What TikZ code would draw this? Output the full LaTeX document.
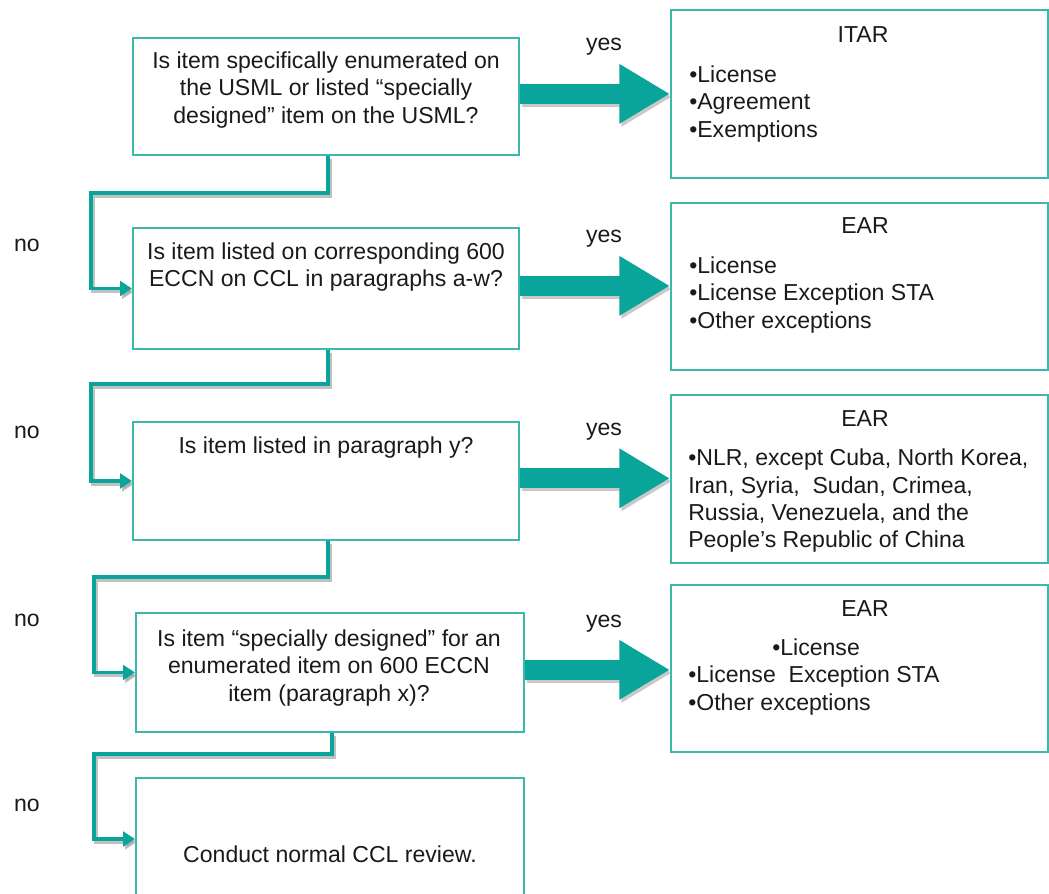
\documentclass[tikz,border=0pt]{standalone}
\usepackage{fontspec}
\setmainfont{Liberation Sans}
\usetikzlibrary{arrows.meta,calc,fit}
\definecolor{tealA}{HTML}{0AA59A}
\definecolor{tealB}{HTML}{3DB9AB}
\definecolor{txt}{HTML}{1A1A1A}
\begin{document}
\begin{tikzpicture}[x=0.75pt,y=-0.75pt,
  box/.style={draw=tealB,line width=1.5pt,inner sep=0pt},
  lbl/.style={font=\fontsize{17.3}{20.5}\selectfont,text=txt,inner sep=0pt},
  qtext/.style={lbl,align=center},
  ltext/.style={lbl,align=left,anchor=west},
  fat/.style={draw=tealA,line width=15pt,-{Triangle[length=38pt,width=42pt]}},
  fatshadow/.style={draw=black!35,opacity=0.6,line width=15pt,-{Triangle[length=38pt,width=42pt]}},
  conn/.style={draw=tealA,line width=2.4pt,-{Triangle[length=9pt,width=11pt]}},
  connshadow/.style={draw=black!40,opacity=0.6,line width=2.4pt,-{Triangle[length=9pt,width=11pt]}}
]
\useasboundingbox (0,0) rectangle (1049,893);
\fill[white] (0,0) rectangle (1049,893);

% question boxes
\node[box,fit={(133,38)(519,155)}] (b1) {};
\node[box,fit={(133,228)(519,349)}] (b2) {};
\node[box,fit={(133,422)(519,540)}] (b3) {};
\node[box,fit={(136,613)(524,732)}] (b4) {};
\node[box,fit={(136,778)(524,900)}] (b5) {};

% result boxes
\node[box,fit={(671,10)(1048,178)}] (r1) {};
\node[box,fit={(671,203)(1048,370)}] (r2) {};
\node[box,fit={(671,395)(1048,563)}] (r3) {};
\node[box,fit={(671,585)(1048,752)}] (r4) {};

% question texts
\node[qtext] (t1) at (326,90) {Is item specifically enumerated on\\the USML or listed “specially\\designed” item on the USML?};
\node[qtext] (t2) at (326,267) {Is item listed on corresponding 600\\ECCN on CCL in paragraphs a-w?};
\node[qtext] (t3) at (326,448) {Is item listed in paragraph y?};
\node[qtext] (t4) at (329,668) {Is item “specially designed” for an\\enumerated item on 600 ECCN\\item (paragraph x)?};
\node[qtext] (t5) at (330,854) {Conduct normal CCL review.};

% result texts
\node[lbl] (h1) at (863,35) {ITAR};
\node[ltext] (l1) at (689,104) {•License\\•Agreement\\•Exemptions};
\node[lbl] (h2) at (865,226) {EAR};
\node[ltext] (l2) at (689,295) {•License\\•License Exception STA\\•Other exceptions};
\node[lbl] (h3) at (865,419) {EAR};
\node[ltext] (l3) at (688,501) {•NLR, except Cuba, North Korea,\\Iran, Syria,\ \ Sudan, Crimea,\\Russia, Venezuela, and the\\People’s Republic of China};
\node[lbl] (h4) at (865,609) {EAR};
\node[ltext] (l4) at (688,677) {\hspace*{63pt}•License\\•License\ \ Exception STA\\•Other exceptions};

% yes / no labels
\node[lbl] (y1) at (604,47) {yes};
\node[lbl] (y2) at (604,239) {yes};
\node[lbl] (y3) at (604,432) {yes};
\node[lbl] (y4) at (604,624) {yes};
\node[lbl] (n1) at (27,245) {no};
\node[lbl] (n2) at (27,432) {no};
\node[lbl] (n3) at (27,620) {no};
\node[lbl] (n4) at (27,805) {no};

% fat yes arrows
\foreach \a/\b in {b1/r1,b2/r2,b3/r3,b4/r4}{
  \draw[fatshadow,transform canvas={shift={(2,3)}}] ([yshift=2pt]\a.east) -- ([yshift=2pt]\a.east -| \b.west);
}
\foreach \a/\b in {b1/r1,b2/r2,b3/r3,b4/r4}{
  \draw[fat] ([yshift=2pt]\a.east) -- ([yshift=2pt]\a.east -| \b.west);
}

% no connectors
\foreach \a/\b/\d in {b1/b2/37,b2/b3/34,b3/b4/36,b4/b5/21}{
  \draw[connshadow,transform canvas={shift={(2,3)}}] ($(\a.south)+(2,0)$) -- ++(0,\d) -| ($(\b.west)+(-41,0)$) -- (\b.west);
}
\foreach \a/\b/\d in {b1/b2/37,b2/b3/34,b3/b4/36,b4/b5/21}{
  \draw[conn] ($(\a.south)+(2,0)$) -- ++(0,\d) -| ($(\b.west)+(-41,0)$) -- (\b.west);
}
\end{tikzpicture}
\end{document}
